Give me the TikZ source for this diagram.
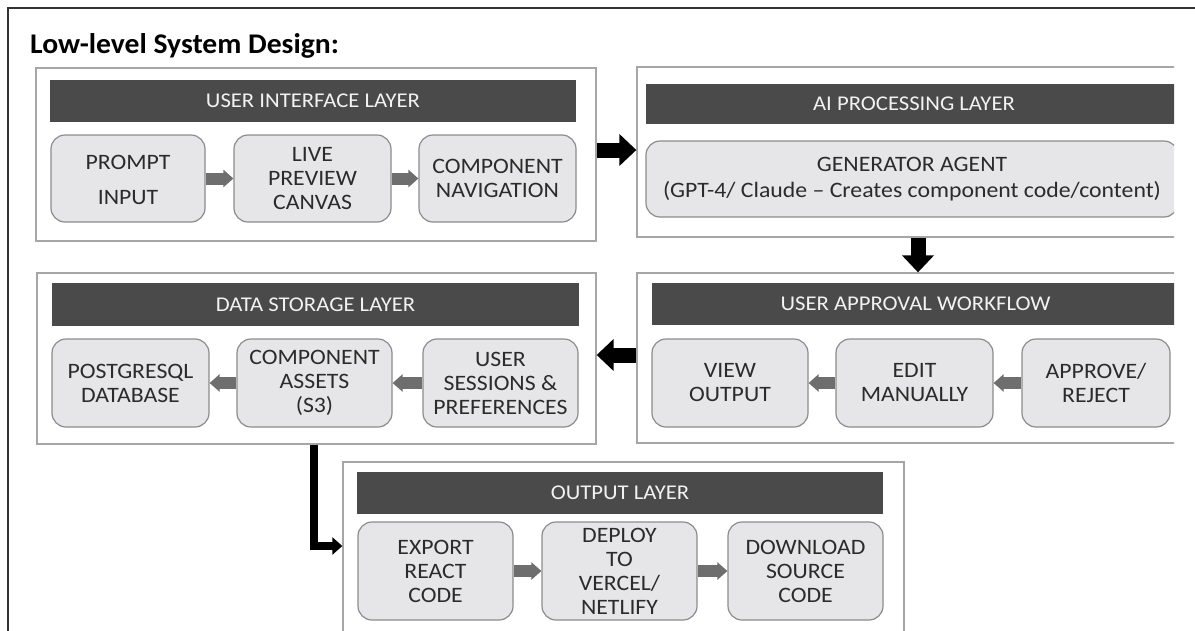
\documentclass[tikz,border=0pt]{standalone}
\usepackage{fontspec}
\setmainfont{Carlito}[FakeStretch=1.08]
\newfontfamily\titlefont{Carlito}[FakeStretch=1.04]
\usetikzlibrary{arrows.meta,calc}
\definecolor{hdr}{HTML}{4A4A4A}
\definecolor{hdrtxt}{HTML}{F2F2F2}
\definecolor{nodefill}{HTML}{E6E6E8}
\definecolor{nodeline}{HTML}{8C8C8C}
\definecolor{layerline}{HTML}{A6A6A6}
\definecolor{txt}{HTML}{2B2B2B}
\definecolor{smallarrow}{HTML}{6E6E6E}
\tikzset{
  layer/.style={draw=layerline, line width=1.3pt, fill=white, rectangle, inner sep=0pt},
  header/.style={fill=hdr, text=hdrtxt, rectangle, inner sep=0pt, font=\fontsize{21}{24}\selectfont},
  box/.style={draw=nodeline, line width=1.2pt, fill=nodefill, rounded corners=14pt, text=txt,
    align=center, inner sep=0pt, font=\fontsize{22}{24}\selectfont},
  grayarrow/.style={draw=smallarrow, line width=12pt, -{Triangle[length=10pt,width=17pt]}},
  bigarrow/.style={draw=black, line width=15pt, -{Triangle[length=17pt,width=31pt]}},
  elbowarrow/.style={draw=black, line width=8pt, -{Triangle[length=10pt,width=17pt]}},
}
\begin{document}
\begin{tikzpicture}[x=1pt,y=-1pt]
\useasboundingbox (0,0) rectangle (1195,630);
\clip (0,0) rectangle (1195,630);
\fill[white] (0,0) rectangle (1195,630);
% outer frame
\draw[draw=black!80, line width=2pt] (8,640) -- (8,8) -- (1200,8);
% title
\node[anchor=west, font=\titlefont\bfseries\fontsize{28.5}{32}\selectfont, text=black, inner sep=0pt] (title) at (30,46) {Low-level System Design:};

% ---------- USER INTERFACE LAYER ----------
\node[layer, minimum width=560pt, minimum height=173pt] (ui) at (316,154.5) {};
\node[header, minimum width=526pt, minimum height=42pt] (uih) at (313,101) {USER INTERFACE LAYER};
\node[box, minimum width=154pt, minimum height=87pt] (prompt) at (128,178.5) {\\[-6pt]PROMPT\\[11pt]INPUT};
\node[box, minimum width=157pt, minimum height=87pt] (live) at (312.5,178.5) {LIVE\\PREVIEW\\CANVAS};
\node[box, minimum width=157pt, minimum height=87pt] (comp) at (497.5,178.5) {COMPONENT\\NAVIGATION};
\draw[grayarrow] (prompt.east) -- (live.west);
\draw[grayarrow] (live.east) -- (comp.west);

% ---------- DATA STORAGE LAYER ----------
\node[layer, minimum width=559pt, minimum height=171pt] (data) at (316.5,358.5) {};
\node[header, minimum width=527pt, minimum height=43pt] (datah) at (315.5,304.5) {DATA STORAGE LAYER};
\node[box, minimum width=157pt, minimum height=88pt] (pg) at (130.5,383) {POSTGRESQL\\DATABASE};
\node[box, minimum width=155pt, minimum height=88pt] (assets) at (314.5,383) {COMPONENT\\ASSETS\\(S3)};
\node[box, minimum width=155pt, minimum height=88pt] (sess) at (500.5,383) {USER\\SESSIONS \&\\PREFERENCES};
\draw[grayarrow] (sess.west) -- (assets.east);
\draw[grayarrow] (assets.west) -- (pg.east);

% ---------- OUTPUT LAYER ----------
\node[layer, minimum width=561pt, minimum height=190pt] (out) at (623.5,557) {};
\node[header, minimum width=526pt, minimum height=42pt] (outh) at (620,493) {OUTPUT LAYER};
\node[box, minimum width=155pt, minimum height=98pt] (export) at (435.5,571) {EXPORT\\REACT\\CODE};
\node[box, minimum width=155pt, minimum height=98pt] (deploy) at (619.5,571) {DEPLOY\\TO\\VERCEL/\\NETLIFY};
\node[box, minimum width=155pt, minimum height=98pt] (download) at (805.5,571) {DOWNLOAD\\SOURCE\\CODE};
\draw[grayarrow] (export.east) -- (deploy.west);
\draw[grayarrow] (deploy.east) -- (download.west);

% ---------- right column (cropped at the right) ----------
\begin{scope}
\clip (0,0) rectangle (1174,630);
\node[layer, minimum width=560pt, minimum height=170pt] (ai) at (917,152) {};
\node[header, minimum width=536pt, minimum height=40pt] (aih) at (914,104) {AI PROCESSING LAYER};
\node[box, minimum width=532pt, minimum height=76pt, font=\fontsize{22}{26}\selectfont] (gen) at (912,179)
  {GENERATOR AGENT\\(GPT-4/ Claude -- Creates component code/content)};
\node[layer, minimum width=560pt, minimum height=170pt] (appr) at (917,358) {};
\node[header, minimum width=527pt, minimum height=42pt] (apprh) at (915.5,304) {USER APPROVAL WORKFLOW};
\node[box, minimum width=156pt, minimum height=88pt] (view) at (730,383) {VIEW\\OUTPUT};
\node[box, minimum width=157pt, minimum height=88pt] (edit) at (914.5,383) {EDIT\\MANUALLY};
\node[box, minimum width=148pt, minimum height=88pt] (approve) at (1096,383) {APPROVE/\\REJECT};
\end{scope}
\draw[grayarrow] (approve.west) -- (edit.east);
\draw[grayarrow] (edit.west) -- (view.east);

% ---------- big connectors ----------
\coordinate (y1) at (0,150);
\coordinate (x2) at (918,0);
\coordinate (y3) at (0,355);
\coordinate (x4) at (314,0);
\coordinate (y4) at (0,546);
\draw[bigarrow] (ui.east |- y1) -- (ai.west |- y1);
\draw[bigarrow] (ai.south -| x2) -- (appr.north -| x2);
\draw[bigarrow] (appr.west |- y3) -- (data.east |- y3);
\draw[elbowarrow] (data.south -| x4) |- (out.west |- y4);
\end{tikzpicture}
\end{document}
